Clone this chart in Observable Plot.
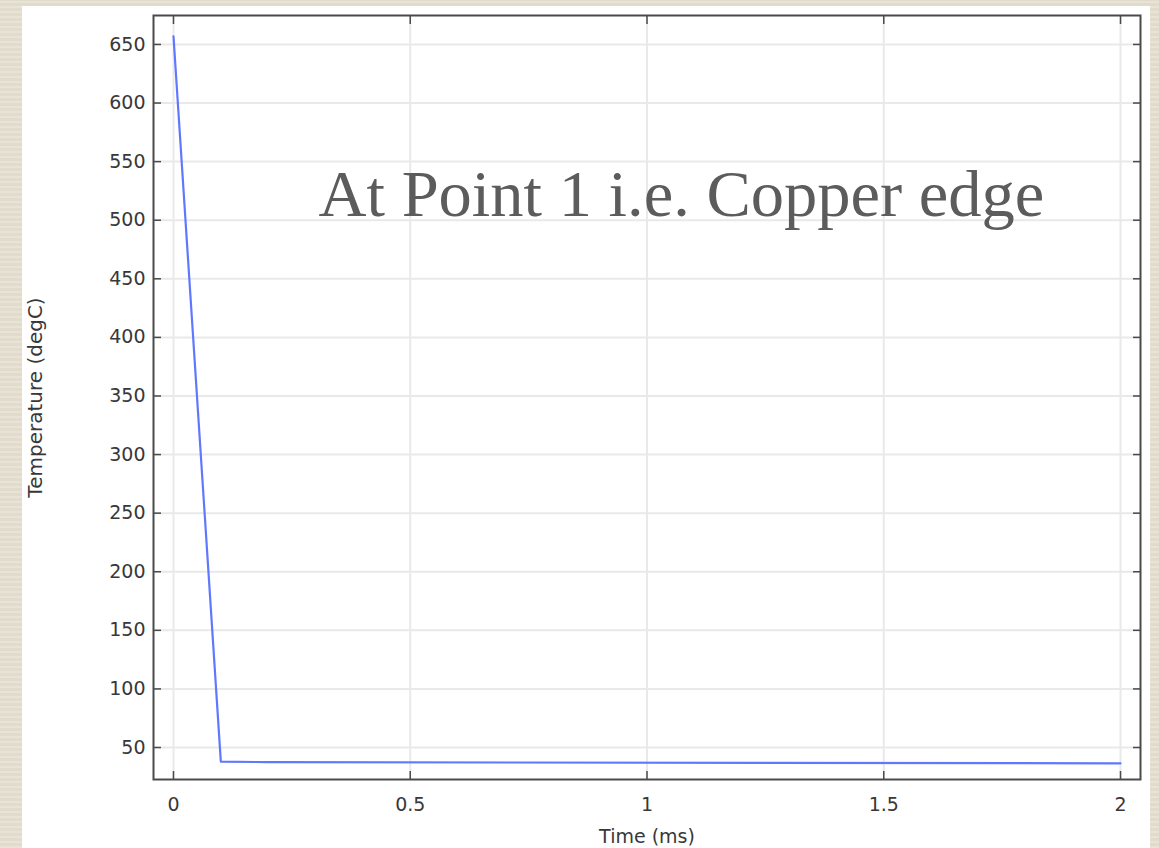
<!DOCTYPE html>
<html>
<head>
<meta charset="utf-8">
<script src="https://cdn.jsdelivr.net/npm/d3@7"></script>
<script src="https://cdn.jsdelivr.net/npm/@observablehq/plot@0.6"></script>
<style>
  html, body { margin: 0; padding: 0; width: 1159px; height: 848px; overflow: hidden; }
  body {
    background-color: #e6e0d2;
    background-image: repeating-linear-gradient(0deg, rgba(255,255,255,0.10) 0 2px, rgba(120,100,70,0.04) 2px 5px);
  }
  #panel { position: absolute; left: 22px; top: 6px; width: 1128px; height: 842px; background: #fff; }
  #chart { position: absolute; left: 0; top: 0; }
</style>
</head>
<body>
<div id="panel"></div>
<div id="chart"></div>
<script>
// Temperature history at probe point 1 (copper edge)
const timeMs = [0, 0.1, 0.2, 2];
const temperatureC = [657, 38, 37.5, 36.5];

const xTicks = [0, 0.5, 1, 1.5, 2];
const yTicks = [50, 100, 150, 200, 250, 300, 350, 400, 450, 500, 550, 600, 650];

const annotation = ["At Point 1 i.e. Copper edge"];

const series = timeMs.map((t, i) => ({t, temp: temperatureC[i]}));

const sans = "DejaVu Sans, sans-serif";
const tickColor = "#4a4a4a";
const labelColor = "#383838";
const tick = 8;

const chart = Plot.plot({
  width: 1159,
  height: 848,
  marginTop: 15,
  marginLeft: 153,
  marginRight: 19,
  marginBottom: 69,
  style: {background: "transparent", fontFamily: sans, fontSize: "19px", color: labelColor},
  x: {domain: [-0.0422, 2.0422]},
  y: {domain: [22.7, 674.7]},
  marks: [
    Plot.gridX(xTicks, {stroke: "#e9e9e9", strokeOpacity: 1, strokeWidth: 2}),
    Plot.gridY(yTicks, {stroke: "#e9e9e9", strokeOpacity: 1, strokeWidth: 2}),
    // inward ticks on all four sides
    Plot.axisY(yTicks, {anchor: "left", text: null, label: null, tickSize: tick, dx: tick, stroke: tickColor, strokeWidth: 1.5}),
    Plot.axisY(yTicks, {anchor: "right", text: null, label: null, tickSize: tick, dx: -tick, stroke: tickColor, strokeWidth: 1.5}),
    Plot.axisX(xTicks, {anchor: "top", text: null, label: null, tickSize: tick, dy: tick, stroke: tickColor, strokeWidth: 1.5}),
    Plot.axisX(xTicks, {anchor: "bottom", text: null, label: null, tickSize: tick, dy: -tick, stroke: tickColor, strokeWidth: 1.5}),
    // tick labels
    Plot.axisY(yTicks, {anchor: "left", tickSize: 0, tickPadding: 8, fill: labelColor, fontSize: 19, label: null}),
    Plot.axisX(xTicks, {anchor: "bottom", tickSize: 0, tickPadding: 18, fill: labelColor, fontSize: 19,
      tickFormat: d => String(d), label: null}),
    // axis titles
    Plot.axisY(yTicks, {anchor: "left", tickSize: 0, text: null, fill: labelColor, fontSize: 20,
      label: "Temperature (degC)", labelAnchor: "center", labelArrow: "none", labelOffset: 126}),
    Plot.axisX(xTicks, {anchor: "bottom", tickSize: 0, text: null, fill: labelColor, fontSize: 19,
      label: "Time (ms)", labelAnchor: "center", labelArrow: "none", labelOffset: 63}),
    Plot.line(series, {x: "t", y: "temp", stroke: "#6078ff", strokeWidth: 2.2}),
    Plot.frame({stroke: "#4a4a4a", strokeWidth: 2}),
    Plot.text(annotation, {text: d => d, frameAnchor: "top-left", dx: 165, dy: 200, textAnchor: "start",
      lineAnchor: "bottom", fontSize: 66.5, fontFamily: "Liberation Serif, serif", fill: "#5c5c5c"})
  ]
});

document.getElementById("chart").appendChild(chart);
</script>
</body>
</html>
